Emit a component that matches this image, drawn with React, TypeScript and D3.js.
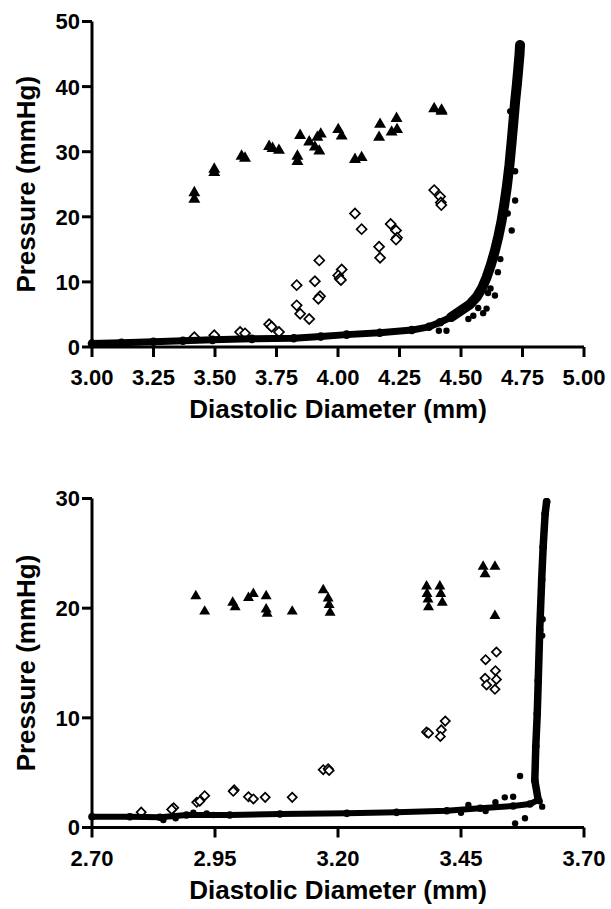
import React from "react";
import * as d3 from "d3";

// ---------- Top panel data ----------
const topXTicks = [3.0, 3.25, 3.5, 3.75, 4.0, 4.25, 4.5, 4.75, 5.0];
const topYTicks = [0, 10, 20, 30, 40, 50];

const topTriangles: [number, number][] = [
  [3.416, 23.7], [3.416, 22.7], [3.497, 27.3], [3.497, 26.8], [3.608, 29.3], [3.622, 29.0],
  [3.72, 30.8], [3.734, 30.5], [3.76, 30.2], [3.835, 29.3], [3.835, 28.5], [3.846, 32.5],
  [3.883, 31.5], [3.906, 30.7], [3.924, 30.1], [3.916, 32.2], [3.93, 32.7], [4.001, 33.4],
  [4.015, 32.4], [4.069, 28.8], [4.096, 29.1], [4.171, 34.2], [4.167, 32.2], [4.218, 33.0],
  [4.238, 35.1], [4.24, 33.4], [4.391, 36.6], [4.421, 36.4], [4.421, 36.2],
];

const topDiamonds: [number, number][] = [
  [4.391, 24.1], [4.415, 23.1], [4.418, 22.2], [4.42, 21.8], [4.069, 20.5], [4.096, 18.1],
  [4.214, 18.9], [4.236, 17.9], [4.24, 16.8], [4.236, 16.5], [4.167, 15.4], [4.171, 13.7],
  [3.924, 13.3], [3.906, 10.1], [3.832, 9.5], [3.927, 7.8], [3.92, 7.4], [3.832, 6.4],
  [3.846, 5.1], [3.883, 4.3], [4.015, 11.9], [4.001, 11.0], [4.007, 10.5], [4.012, 10.3],
  [3.72, 3.5], [3.73, 3.1], [3.76, 2.3], [3.602, 2.3], [3.622, 2.1], [3.416, 1.5], [3.497, 1.8],
];

const topCurve: [number, number][] = [
  [3.0, 0.55], [3.12, 0.65], [3.25, 0.8], [3.37, 0.95], [3.49, 1.1], [3.65, 1.25], [3.82, 1.35],
  [3.93, 1.6], [4.035, 1.9], [4.17, 2.2], [4.3, 2.6], [4.37, 3.1], [4.415, 3.8], [4.46, 4.6],
  [4.496, 5.5], [4.535, 6.5], [4.564, 7.7], [4.585, 9.0], [4.604, 10.7], [4.622, 12.7],
  [4.638, 14.8], [4.652, 17.0], [4.665, 19.4], [4.676, 21.9], [4.686, 24.5], [4.697, 28.0],
  [4.706, 31.6], [4.713, 34.6], [4.72, 37.7], [4.727, 40.3], [4.733, 42.8], [4.738, 45.0],
  [4.74, 46.4],
];

const topStray: [number, number][] = [
  [4.679, 24.2], [4.706, 17.9], [4.638, 7.9], [4.604, 5.9], [4.53, 4.3], [4.55, 4.8],
  [4.441, 2.5], [4.70, 36.2], [4.59, 5.2], [4.41, 2.5], [4.72, 27.0], [4.69, 20.5],
  [4.66, 13.5], [4.61, 8.3], [4.65, 11.5], [4.72, 22.5], [4.62, 9.0], [4.57, 6.0],
];

// ---------- Bottom panel data ----------
const botXTicks = [2.7, 2.95, 3.2, 3.45, 3.7];
const botYTicks = [0, 10, 20, 30];

const botTriangles: [number, number][] = [
  [2.911, 21.1], [2.929, 19.7], [2.986, 20.5], [2.991, 20.1], [3.018, 20.95], [3.028, 21.3],
  [3.054, 21.1], [3.054, 19.9], [3.056, 19.5], [3.107, 19.7], [3.17, 21.65], [3.18, 20.9],
  [3.182, 20.3], [3.184, 19.6], [3.38, 22.0], [3.381, 21.3], [3.383, 20.8], [3.384, 20.1],
  [3.407, 22.0], [3.409, 21.3], [3.412, 20.5], [3.495, 23.8], [3.499, 23.1], [3.519, 23.8],
  [3.519, 19.3],
];

const botDiamonds: [number, number][] = [
  [3.5, 15.3], [3.522, 16.0], [3.52, 14.3], [3.499, 13.6], [3.502, 13.0], [3.522, 13.5],
  [3.519, 12.6], [3.418, 9.7], [3.41, 8.9], [3.408, 8.3], [3.38, 8.7], [3.384, 8.6],
  [3.17, 5.27], [3.18, 5.36], [3.182, 5.2], [2.989, 3.43], [2.987, 3.3], [3.018, 2.8],
  [3.028, 2.6], [3.052, 2.75], [3.107, 2.75], [2.929, 2.9], [2.913, 2.3], [2.919, 2.4],
  [2.866, 1.8], [2.862, 1.65], [2.8, 1.4],
];

const botCurve: [number, number][] = [
  [2.7, 0.98], [2.777, 0.98], [2.838, 0.93], [2.892, 1.14], [2.98, 1.14], [3.082, 1.23],
  [3.218, 1.29], [3.319, 1.38], [3.421, 1.53], [3.489, 1.75], [3.556, 1.96], [3.59, 2.14],
  [3.607, 2.5], [3.6, 4.3], [3.602, 7.4], [3.605, 10.4], [3.607, 13.4], [3.61, 18.0],
  [3.614, 22.6], [3.617, 25.6], [3.621, 28.6], [3.624, 29.7],
];

const botStray: [number, number][] = [
  [3.57, 4.7], [3.56, 0.38], [3.58, 0.84], [3.539, 2.75], [3.556, 2.8], [3.465, 2.05],
  [2.845, 0.68], [2.87, 0.84], [2.906, 1.35], [2.933, 1.29], [2.947, 1.14], [3.615, 17.5],
  [3.616, 19.0], [3.61, 2.4], [3.615, 1.9], [3.52, 2.3], [3.5, 1.5], [3.45, 1.35],
];

const FONT = "'Liberation Sans', Arial, Helvetica, sans-serif";

type PanelProps = {
  top: number;
  bottom: number;
  xDomain: [number, number];
  yDomain: [number, number];
  xTicks: number[];
  yTicks: number[];
  triangles: [number, number][];
  diamonds: [number, number][];
  curve: [number, number][];
  stray: [number, number][];
  triSize: number;
  diaSize: number;
  bandWidth: number;
  steepFrom: number;
  steepWidth: number;
};

function Panel(p: PanelProps) {
  const left = 92;
  const right = 584;
  const x = d3.scaleLinear().domain(p.xDomain).range([left, right]);
  const y = d3.scaleLinear().domain(p.yDomain).range([p.bottom, p.top]);
  const tri = d3.symbol().type(d3.symbolTriangle).size(p.triSize)();
  const sq = d3.symbol().type(d3.symbolSquare).size(p.diaSize)();
  const line = d3
    .line<[number, number]>()
    .x((d) => x(d[0]))
    .y((d) => y(d[1]));
  const steep = p.curve.filter((d) => d[1] >= p.steepFrom);
  const midY = (p.top + p.bottom) / 2;
  const midX = (left + right) / 2;
  return (
    <g>
      {p.diamonds.map((d, i) => (
        <path
          key={"d" + i}
          d={sq || ""}
          transform={`translate(${x(d[0])},${y(d[1])}) rotate(45)`}
          fill="#fff"
          stroke="#000"
          strokeWidth={1.7}
        />
      ))}
      {p.triangles.map((d, i) => (
        <path key={"t" + i} d={tri || ""} transform={`translate(${x(d[0])},${y(d[1])})`} fill="#000" />
      ))}
      <path
        d={line(p.curve) || ""}
        fill="none"
        stroke="#000"
        strokeWidth={p.bandWidth}
        strokeLinejoin="round"
        strokeLinecap="round"
      />
      <path
        d={line(steep) || ""}
        fill="none"
        stroke="#000"
        strokeWidth={p.steepWidth}
        strokeLinejoin="round"
        strokeLinecap="round"
      />
      {p.curve.map((d, i) => (
        <circle key={"c" + i} cx={x(d[0])} cy={y(d[1])} r={p.bandWidth / 2 + 0.8} fill="#000" />
      ))}
      {p.stray.map((d, i) => (
        <circle key={"s" + i} cx={x(d[0])} cy={y(d[1])} r={3.2} fill="#000" />
      ))}
      {/* axes */}
      <line x1={left} x2={left} y1={p.top} y2={p.bottom + 1.5} stroke="#000" strokeWidth={3} />
      <line x1={left - 1.5} x2={right} y1={p.bottom} y2={p.bottom} stroke="#000" strokeWidth={3} />
      {p.yTicks.map((t) => (
        <g key={"yt" + t}>
          <line x1={left - 10} x2={left} y1={y(t)} y2={y(t)} stroke="#000" strokeWidth={3} />
          <text
            x={left - 12}
            y={y(t)}
            dy="0.36em"
            textAnchor="end"
            fontFamily={FONT}
            fontWeight="bold"
            fontSize={22}
          >
            {t}
          </text>
        </g>
      ))}
      {p.xTicks.map((t) => (
        <g key={"xt" + t}>
          <line x1={x(t)} x2={x(t)} y1={p.bottom} y2={p.bottom + 10} stroke="#000" strokeWidth={3} />
          <text
            x={x(t)}
            y={p.bottom + 38}
            textAnchor="middle"
            fontFamily={FONT}
            fontWeight="bold"
            fontSize={22}
          >
            {t.toFixed(2)}
          </text>
        </g>
      ))}
      <text
        x={midX}
        y={p.bottom + 71}
        textAnchor="middle"
        fontFamily={FONT}
        fontWeight="bold"
        fontSize={26}
      >
        Diastolic Diameter (mm)
      </text>
      <text
        transform={`translate(35,${midY}) rotate(-90)`}
        textAnchor="middle"
        fontFamily={FONT}
        fontWeight="bold"
        fontSize={26}
      >
        Pressure (mmHg)
      </text>
    </g>
  );
}

export default function App() {
  return (
    <svg
      width={611}
      height={909}
      style={{ position: "absolute", left: 0, top: 0, background: "#fff" }}
    >
      <rect width={611} height={909} fill="#fff" />
      <Panel
        top={21.5}
        bottom={347}
        xDomain={[3.0, 5.0]}
        yDomain={[0, 50]}
        xTicks={topXTicks}
        yTicks={topYTicks}
        triangles={topTriangles}
        diamonds={topDiamonds}
        curve={topCurve}
        stray={topStray}
        triSize={62}
        diaSize={50}
        bandWidth={7}
        steepFrom={4}
        steepWidth={10}
      />
      <Panel
        top={498.5}
        bottom={827.5}
        xDomain={[2.7, 3.7]}
        yDomain={[0, 30]}
        xTicks={botXTicks}
        yTicks={botYTicks}
        triangles={botTriangles}
        diamonds={botDiamonds}
        curve={botCurve}
        stray={botStray}
        triSize={52}
        diaSize={42}
        bandWidth={6}
        steepFrom={2.3}
        steepWidth={7.5}
      />
    </svg>
  );
}
